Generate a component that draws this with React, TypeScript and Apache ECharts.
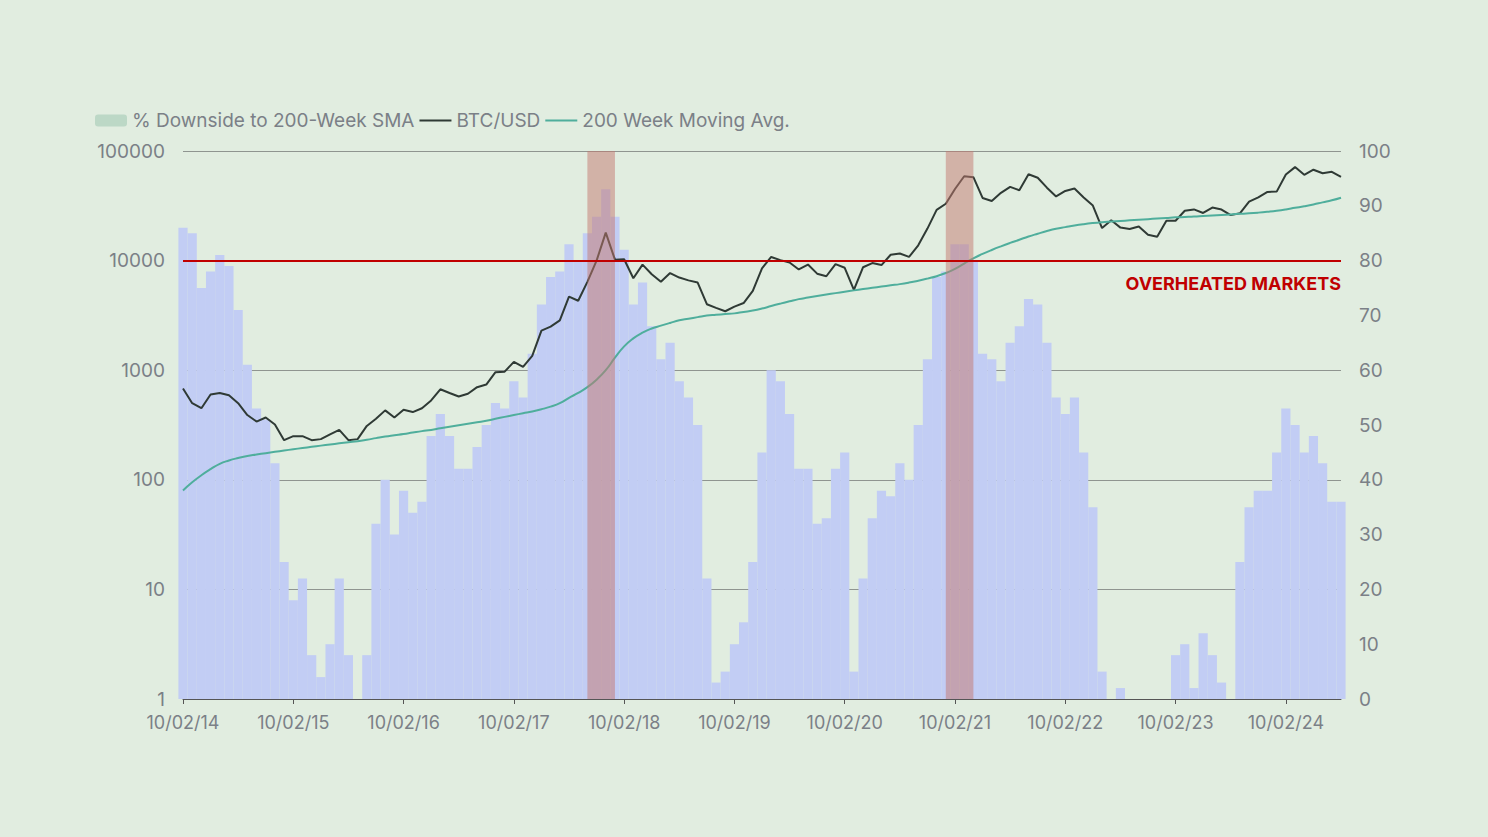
import { useEffect, useRef } from "react";
import * as echarts from "echarts";

// monthly, Feb 2014 .. Aug 2024
const btcUsd = [
  680, 500, 450, 600, 620, 590, 500, 390, 340, 370, 320,
  230, 250, 250, 230, 235, 260, 285, 230, 235, 310, 360, 430,
  370, 435, 415, 450, 530, 670, 620, 575, 610, 700, 740, 960,
  970, 1190, 1070, 1350, 2300, 2500, 2850, 4700, 4300, 6400, 10000, 18000,
  10200, 10300, 6900, 9200, 7500, 6400, 7700, 7000, 6600, 6300, 4000, 3700,
  3450, 3800, 4100, 5300, 8500, 10800, 10100, 9600, 8300, 9200, 7600, 7200,
  9300, 8600, 5400, 8700, 9500, 9100, 11300, 11600, 10800, 13800, 19600, 29000,
  33000, 45000, 58800, 57700, 37300, 35000, 41500, 47100, 43800, 61300, 57000, 46300,
  38500, 43200, 45500, 37700, 31800, 19800, 23300, 20000, 19400, 20500, 17200, 16500,
  23100, 23100, 28500, 29300, 27200, 30500, 29200, 26000, 27000, 34500, 37700, 42300,
  42600, 61000, 71300, 60600, 67500, 62700, 64600, 58000,
];

const sma200 = [
  80, 95, 110, 125, 140, 150, 158, 165, 170, 175, 180,
  185, 190, 195, 200, 205, 210, 215, 220, 225, 232, 240, 248,
  255, 262, 270, 278, 285, 295, 305, 315, 325, 335, 345, 360,
  375, 390, 405, 420, 440, 465, 500, 560, 620, 700, 820, 1000,
  1300, 1650, 1950, 2200, 2400, 2550, 2700, 2850, 2950, 3050, 3150, 3200,
  3250, 3300, 3400, 3500, 3650, 3850, 4050, 4250, 4450, 4600, 4750, 4900,
  5050, 5200, 5350, 5500, 5650, 5800, 5950, 6100, 6300, 6550, 6850, 7200,
  7700, 8400, 9400, 10500, 11500, 12500, 13500, 14500, 15500, 16600, 17600, 18600,
  19500, 20200, 20900, 21500, 22000, 22400, 22700, 23000, 23300, 23600, 23900, 24200,
  24500, 24800, 25000, 25200, 25500, 25800, 26100, 26400, 26700, 27000, 27400, 27900,
  28500, 29300, 30300, 31300, 32500, 34000, 35500, 37500,
];

const downsidePct = [
  86, 85, 75, 78, 81, 79, 71, 61, 53, 51, 43,
  25, 18, 22, 8, 4, 10, 22, 8, 0, 8, 32, 40,
  30, 38, 34, 36, 48, 52, 48, 42, 42, 46, 50, 54,
  53, 58, 55, 63, 72, 77, 78, 83, 80, 85, 88, 93,
  88, 82, 72, 76, 68, 62, 65, 58, 55, 50, 22, 3,
  5, 10, 14, 25, 45, 60, 58, 52, 42, 42, 32, 33,
  42, 45, 5, 22, 33, 38, 37, 43, 40, 50, 62, 77,
  78, 83, 83, 80, 63, 62, 58, 65, 68, 73, 72, 65,
  55, 52, 55, 45, 35, 5, 0, 2, 0, 0, 0, 0,
  0, 8, 10, 2, 12, 8, 3, 0, 25, 35, 38, 38,
  45, 53, 50, 45, 48, 43, 36, 36,
];

const months: string[] = [];
for (let i = 0; i < btcUsd.length; i++) {
  const y = 2014 + Math.floor((i + 1) / 12);
  const m = ((i + 1) % 12) + 1;
  months.push(`10/${String(m).padStart(2, "0")}/${String(y).slice(2)}`);
}

const overheatedLevel = 80;
const hotZones: [number, number][] = [
  [44, 47],
  [83, 86],
];

const grey = "#7b8087";

export default function App() {
  const chartRef = useRef<HTMLDivElement>(null);

  useEffect(() => {
    if (!chartRef.current) return;
    const chart = echarts.init(chartRef.current, undefined, { renderer: "svg" });
    chart.setOption({
      animation: false,
      backgroundColor: "#e1ede0",
      textStyle: { fontFamily: "Inter" },
      legend: {
        left: 90,
        top: 106,
        itemGap: 4,
        itemWidth: 32,
        itemHeight: 12,
        textStyle: { color: grey, fontSize: 19 },
        data: [
          { name: "% Downside to 200-Week SMA", itemStyle: { color: "#bcd8c6" } },
          { name: "BTC/USD", itemStyle: { opacity: 0 } },
          { name: "200 Week Moving Avg.", itemStyle: { opacity: 0 } },
        ],
      },
      grid: { left: 183, right: 147, top: 151, bottom: 138 },
      xAxis: {
        type: "category",
        data: months,
        boundaryGap: false,
        axisLine: { lineStyle: { color: "#555" } },
        axisTick: { show: true, interval: 11, lineStyle: { color: "#555" } },
        axisLabel: { interval: 11, color: grey, fontSize: 18, margin: 14 },
      },
      yAxis: [
        {
          type: "log",
          logBase: 10,
          min: 1,
          max: 100000,
          axisLine: { show: false },
          axisTick: { show: false },
          axisLabel: { color: grey, fontSize: 19, margin: 18, formatter: (v: number) => String(v) },
          splitLine: { lineStyle: { color: "#8f9590", width: 1 } },
        },
        {
          type: "value",
          min: 0,
          max: 100,
          interval: 10,
          axisLine: { show: false },
          axisTick: { show: false },
          axisLabel: { color: grey, fontSize: 19, margin: 18 },
          splitLine: { show: false },
        },
      ],
      series: [
        {
          name: "% Downside to 200-Week SMA",
          type: "bar",
          yAxisIndex: 1,
          data: downsidePct,
          barWidth: "100%",
          itemStyle: { color: "#c2cdf4" },
          markLine: {
            silent: true,
            symbol: "none",
            z: 12,
            lineStyle: { color: "#c00000", width: 2, type: "solid" },
            label: {
              position: "insideEndBottom",
              formatter: "OVERHEATED MARKETS",
              color: "#c00000",
              fontWeight: "bold",
              fontSize: 18,
              distance: [0, 14],
            },
            data: [{ yAxis: overheatedLevel }],
          },
        },
        {
          name: "BTC/USD",
          type: "line",
          z: 4,
          data: btcUsd,
          symbol: "none",
          lineStyle: { color: "#2f3a35", width: 2 },
          itemStyle: { color: "#2f3a35" },
          markArea: {
            silent: true,
            z: 10,
            itemStyle: { color: "rgba(196,120,110,0.5)" },
            data: hotZones.map(([a, b]) => [{ xAxis: a }, { xAxis: b }]),
          },
        },
        {
          name: "200 Week Moving Avg.",
          type: "line",
          z: 5,
          data: sma200,
          symbol: "none",
          smooth: true,
          lineStyle: { color: "#4fae9c", width: 2 },
          itemStyle: { color: "#4fae9c" },
        },
      ],
    });
    return () => chart.dispose();
  }, []);

  return (
    <div
      ref={chartRef}
      style={{ position: "fixed", left: 0, top: 0, width: 1488, height: 837 }}
    />
  );
}
